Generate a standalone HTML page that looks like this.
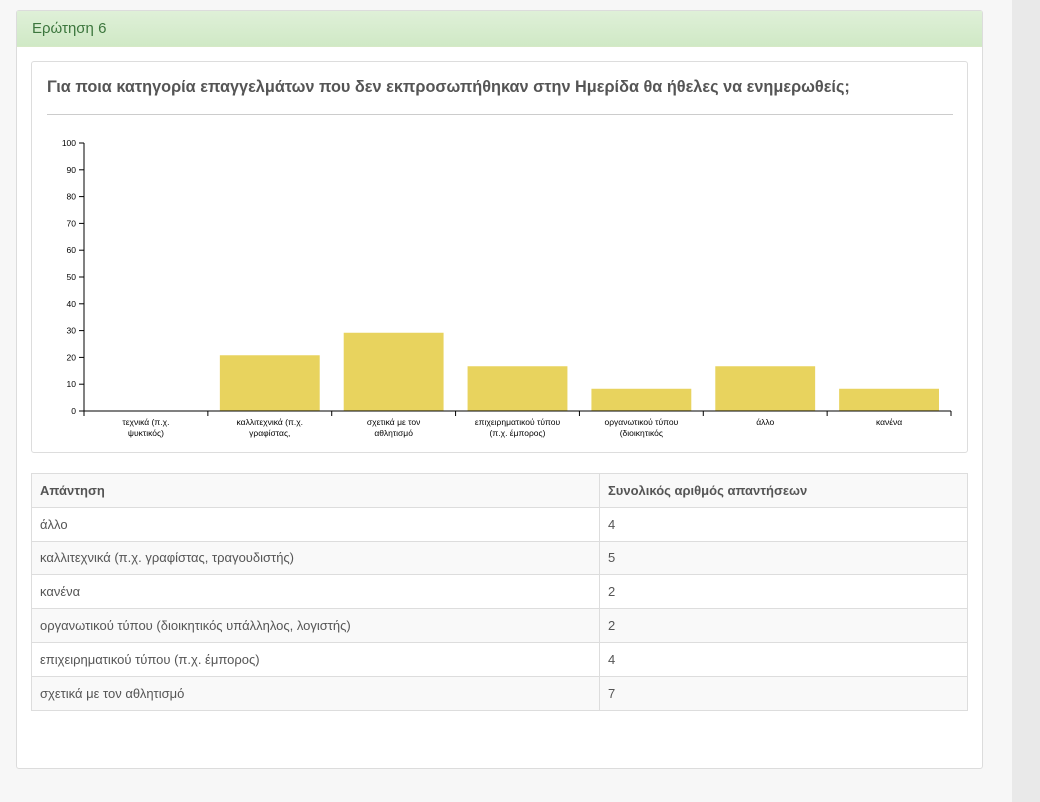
<!DOCTYPE html>
<html><head><meta charset="utf-8"><style>
body{margin:0;width:1040px;height:802px;background:#f7f7f7;font-family:"Liberation Sans","DejaVu Sans",sans-serif;position:relative;overflow:hidden;color:#555}
.scroll{position:absolute;left:1012px;top:0;width:28px;height:802px;background:#e9e9e9}
.panel{position:absolute;left:16px;top:10px;width:965px;height:757px;background:#fff;border:1px solid #dcdcdc;border-radius:3px}
.head{height:35px;background:linear-gradient(#dff0d8,#d0e9c6);border-bottom:1px solid #d6e9c6;color:#3c763d;font-size:15px;line-height:35px;padding-left:15px}
.card{position:absolute;left:14px;top:50px;width:935px;height:390px;border:1px solid #ddd;border-radius:3px;background:#fff}
.title{position:absolute;left:15px;top:16px;font-size:16.3px;font-weight:bold;color:#555;white-space:nowrap}
.hr{position:absolute;left:15px;right:14px;top:52px;border-top:1px solid #ccc}
table{position:absolute;left:14px;top:462px;width:937px;border-collapse:collapse;font-size:13px}
td,th{border:1px solid #ddd;height:33.8px;padding:0 8px;text-align:left;color:#555;box-sizing:border-box}
th{font-weight:bold}
tr:nth-child(odd){background:#f9f9f9}
</style></head><body>
<div class="scroll"></div>
<div class="panel">
<div class="head">Ερώτηση 6</div>
<div class="card">
<div class="title">Για ποια κατηγορία επαγγελμάτων που δεν εκπροσωπήθηκαν στην Ημερίδα θα ήθελες να ενημερωθείς;</div>
<div class="hr"></div>
</div>
<table>
<tr><th style="width:568px">Απάντηση</th><th>Συνολικός αριθμός απαντήσεων</th></tr>
<tr><td>άλλο</td><td>4</td></tr>
<tr><td>καλλιτεχνικά (π.χ. γραφίστας, τραγουδιστής)</td><td>5</td></tr>
<tr><td>κανένα</td><td>2</td></tr>
<tr><td>οργανωτικού τύπου (διοικητικός υπάλληλος, λογιστής)</td><td>2</td></tr>
<tr><td>επιχειρηματικού τύπου (π.χ. έμπορος)</td><td>4</td></tr>
<tr><td>σχετικά με τον αθλητισμό</td><td>7</td></tr>
</table>
</div>
<svg id="chart" style="position:absolute;left:0;top:0" width="1040" height="802"></svg>
<script>
const categories=[["τεχνικά (π.χ.","ψυκτικός)"],["καλλιτεχνικά (π.χ.","γραφίστας,"],["σχετικά με τον","αθλητισμό"],["επιχειρηματικού τύπου","(π.χ. έμπορος)"],["οργανωτικού τύπου","(διοικητικός"],["άλλο"],["κανένα"]];
const values=[0,20.8,29.2,16.7,8.3,16.7,8.3];
const yTicks=[0,10,20,30,40,50,60,70,80,90,100];
const NS="http://www.w3.org/2000/svg",svg=document.getElementById('chart');
const x0=84,x1=951,y0=411,y1=143;
const y=v=>y0-(v/100)*(y0-y1);
const bw=(x1-x0)/categories.length;
function mk(t,a,txt){const e=document.createElementNS(NS,t);for(const k in a)e.setAttribute(k,a[k]);if(txt!=null)e.textContent=txt;svg.appendChild(e);return e;}
values.forEach((v,i)=>{const r=mk('rect',{x:x0+i*bw+12,y:y(v),width:bw-24,height:y0-y(v),fill:'#e8d35e'});

});
mk('line',{x1:x0,y1:y1,x2:x0,y2:y0,stroke:'#000'});
mk('line',{x1:x0,y1:y0,x2:x1,y2:y0,stroke:'#000'});
yTicks.forEach(t=>{mk('line',{x1:x0-5,y1:y(t),x2:x0,y2:y(t),stroke:'#000'});
const l=mk('text',{x:x0-8,y:y(t)+3,'font-size':8.5,'text-anchor':'end',fill:'#000','font-family':'Liberation Sans, sans-serif'},t);

});
for(let i=0;i<=categories.length;i++)mk('line',{x1:x0+i*bw,y1:y0,x2:x0+i*bw,y2:y0+5,stroke:'#000'});
categories.forEach((c,i)=>{c.forEach((s,j)=>{const l=mk('text',{x:x0+(i+.5)*bw,y:y0+14+j*11,'font-size':8.5,'text-anchor':'middle',fill:'#000','font-family':'Liberation Sans, sans-serif'},s);

});});
</script>
</body></html>
